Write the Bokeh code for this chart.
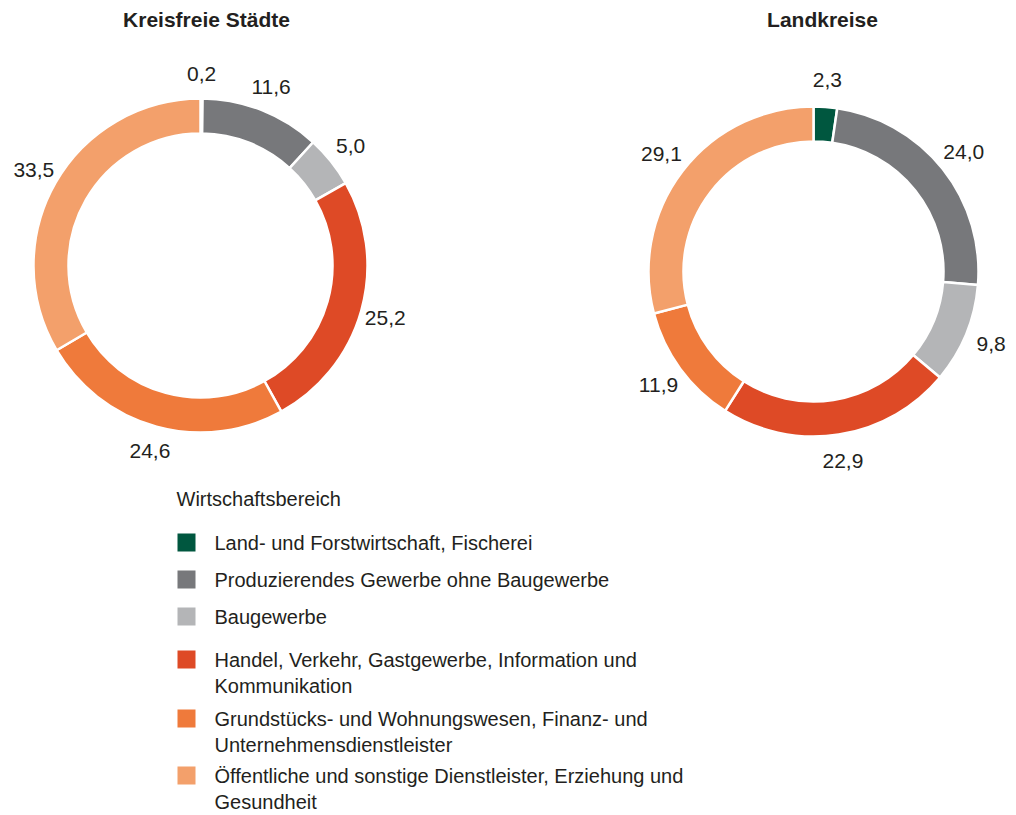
import math
from bokeh.plotting import figure
from bokeh.models import Range1d, ColumnDataSource
from bokeh.core.properties import value
from bokeh.embed import file_html
from bokeh.resources import INLINE

# ---------------- data ----------------
categories = [
    "Land- und Forstwirtschaft, Fischerei",
    "Produzierendes Gewerbe ohne Baugewerbe",
    "Baugewerbe",
    "Handel, Verkehr, Gastgewerbe, Information und\nKommunikation",
    "Grundstücks- und Wohnungswesen, Finanz- und\nUnternehmensdienstleister",
    "Öffentliche und sonstige Dienstleister, Erziehung und\nGesundheit",
]
colors = ["#00573F", "#77787B", "#B4B5B7", "#DE4A26", "#EF7A3B", "#F3A06B"]
kreisfreie_staedte = [0.2, 11.6, 5.0, 25.2, 24.6, 33.5]
landkreise = [2.3, 24.0, 9.8, 22.9, 11.9, 29.1]
chart_titles = ["Kreisfreie Städte", "Landkreise"]
legend_title = "Wirtschaftsbereich"

# ---------------- layout ----------------
W, H = 1016, 815
FONT = "Liberation Sans"
TXT = "#231F20"

def Y(y):  # reference pixel row -> data y
    return H - y

p = figure(width=W, height=H, x_range=Range1d(0, W), y_range=Range1d(0, H),
           x_axis_location=None, y_axis_location=None, toolbar_location=None,
           output_backend="svg", min_border=0)
p.grid.visible = False
p.outline_line_color = None
p.background_fill_color = "white"
p.border_fill_color = "white"

charts = [
    dict(vals=kreisfreie_staedte, cx=200, cy=265, ro=167, ri=132, tx=206),
    dict(vals=landkreise, cx=813, cy=271, ro=165, ri=130, tx=822),
]
LABEL_R = 192

for title, ch in zip(chart_titles, charts):
    vals = ch["vals"]
    total = sum(vals)
    starts, ends, lx, ly, labels = [], [], [], [], []
    cum = 0.0
    for v in vals:
        a0 = cum / total * 2 * math.pi
        cum += v
        a1 = cum / total * 2 * math.pi
        # clockwise from 12 o'clock
        starts.append(math.pi / 2 - a1)
        ends.append(math.pi / 2 - a0)
        mid = (a0 + a1) / 2
        lx.append(ch["cx"] + LABEL_R * math.sin(mid))
        ly.append(Y(ch["cy"]) + LABEL_R * math.cos(mid))
        labels.append(f"{v:.1f}".replace(".", ","))
    src = ColumnDataSource(dict(start=starts, end=ends, color=colors,
                                lx=lx, ly=ly, label=labels))
    p.annular_wedge(x=ch["cx"], y=Y(ch["cy"]), inner_radius=ch["ri"], outer_radius=ch["ro"],
                    start_angle="start", end_angle="end", fill_color="color",
                    line_color="white", line_width=2.5, source=src)
    p.text(x="lx", y="ly", text="label", source=src, text_font=value(FONT),
           text_font_size="21px", text_color=TXT, text_align="center",
           text_baseline="middle")
    p.text(x=[ch["tx"]], y=[Y(19)], text=[title], text_font=value(FONT),
           text_font_size="21px", text_font_style="bold", text_color=TXT,
           text_align="center", text_baseline="middle")

# ---------------- legend ----------------
p.text(x=[176], y=[Y(498)], text=[legend_title], text_font=value(FONT),
       text_font_size="20px", text_color=TXT, text_align="left", text_baseline="middle")
legend_rows = [542, 579, 616, 659, 718, 775]  # square centres (layout)
sq = 18
p.rect(x=[186] * len(colors), y=[Y(r) for r in legend_rows], width=sq, height=sq,
       fill_color=colors, line_color=None)
p.text(x=[214] * len(categories), y=[Y(r - 11) for r in legend_rows], text=categories,
       text_font=value(FONT), text_font_size="20px", text_color=TXT,
       text_align="left", text_baseline="top", text_line_height=1.2)

open("out.html", "w").write(file_html(p, INLINE))
